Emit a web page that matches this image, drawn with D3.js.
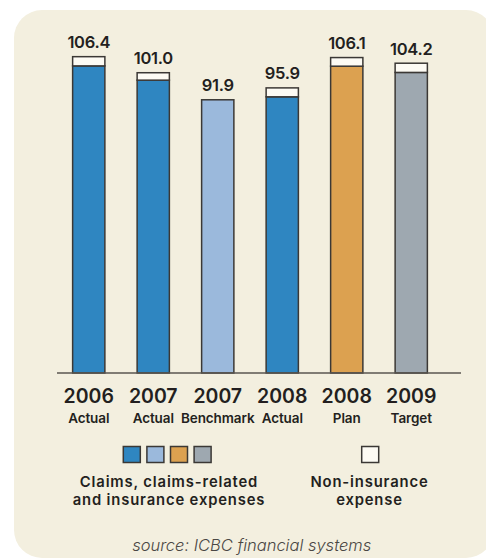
<!DOCTYPE html>
<html>
<head>
<meta charset="utf-8">
<script src="https://cdn.jsdelivr.net/npm/d3@7"></script>
<style>
  html, body { margin: 0; padding: 0; background: #ffffff; }
  svg { display: block; }
  text { font-family: Inter, Lato, sans-serif; fill: #231f20; }
</style>
</head>
<body>
<svg id="chart" width="486" height="559"></svg>
<script>
// Expense ratios by year and scenario
const years     = ["2006", "2007", "2007", "2008", "2008", "2009"];
const scenarios = ["Actual", "Actual", "Benchmark", "Actual", "Plan", "Target"];
const totals    = [106.4, 101.0, 91.9, 95.9, 106.1, 104.2];
const claims    = [103.3, 98.5, 91.9, 92.9, 103.2, 101.1];
const nonInsurance = totals.map((t, i) => +(t - claims[i]).toFixed(1));
const barColors = ["#2f86c1", "#2f86c1", "#9bb9dc", "#2f86c1", "#dca150", "#9ea8b0"];
const legendColors = ["#2f86c1", "#9bb9dc", "#dca150", "#9ea8b0"];
const legendLabels = [["Claims, claims-related", "and insurance expenses"], ["Non-insurance", "expense"]];
const sourceNote = "source: ICBC financial systems";

const svg = d3.select("#chart");
const stroke = "#3b3835";
const whiteFill = "#fdfbf4";

// Background panel
svg.append("rect")
  .attr("x", 14).attr("y", 10)
  .attr("width", 480).attr("height", 548)
  .attr("rx", 28).attr("ry", 28)
  .attr("fill", "#f3efdf");

const idx = d3.range(years.length);
const x = d3.scaleBand().domain(idx).range([56.5, 443.5]).paddingInner(0.5).paddingOuter(0.25);
const y = d3.scaleLinear().domain([0, 110]).range([373, 373 - 110 * 2.973]);

// Stacked bars: claims at the bottom, non-insurance expense on top
const bars = svg.append("g");
idx.forEach(i => {
  const g = bars.append("g");
  g.append("rect")
    .attr("x", x(i)).attr("width", x.bandwidth())
    .attr("y", y(claims[i])).attr("height", y(0) - y(claims[i]))
    .attr("fill", barColors[i]).attr("stroke", stroke).attr("stroke-width", 1.5);
  if (nonInsurance[i] > 0) {
    g.append("rect")
      .attr("x", x(i)).attr("width", x.bandwidth())
      .attr("y", y(totals[i])).attr("height", y(claims[i]) - y(totals[i]))
      .attr("fill", whiteFill).attr("stroke", stroke).attr("stroke-width", 1.5);
  }
  g.append("text")
    .attr("x", x(i) + x.bandwidth() / 2)
    .attr("y", y(totals[i]) - 8.5)
    .attr("text-anchor", "middle")
    .attr("font-size", 16.5).attr("font-weight", 600)
    .attr("letter-spacing", -0.3)
    .text(totals[i].toFixed(1));
});

// Baseline
svg.append("line")
  .attr("x1", 57).attr("x2", 461)
  .attr("y1", y(0)).attr("y2", y(0))
  .attr("stroke", "#5a5651").attr("stroke-width", 1.5);

// Category labels
const cats = svg.append("g");
idx.forEach(i => {
  const cx = x(i) + x.bandwidth() / 2;
  cats.append("text").attr("x", cx).attr("y", 403.3)
    .attr("text-anchor", "middle").attr("font-size", 19.5).attr("font-weight", 600)
    .text(years[i]);
  cats.append("text").attr("x", cx).attr("y", 422.7)
    .attr("text-anchor", "middle").attr("font-size", 13.5).attr("font-weight", 600)
    .attr("letter-spacing", -0.1)
    .text(scenarios[i]);
});

// Legend
const legend = svg.append("g");
const sq = 17;
legendColors.forEach((c, k) => {
  legend.append("rect")
    .attr("x", 123.3 + k * 23.6).attr("y", 446.5)
    .attr("width", sq).attr("height", 16)
    .attr("fill", c).attr("stroke", stroke).attr("stroke-width", 1.5);
});
legend.append("rect")
  .attr("x", 361.7).attr("y", 446.5).attr("width", sq).attr("height", 16)
  .attr("fill", whiteFill).attr("stroke", stroke).attr("stroke-width", 1.5);

[[169, legendLabels[0]], [369.5, legendLabels[1]]].forEach(([cx, lines]) => {
  lines.forEach((t, j) => {
    legend.append("text").attr("x", cx).attr("y", 487.2 + j * 18)
      .attr("text-anchor", "middle").attr("font-size", 14.8).attr("font-weight", 600)
      .attr("letter-spacing", 0.85)
      .text(t);
  });
});

// Source note
svg.append("text")
  .attr("x", 251.7).attr("y", 551)
  .attr("text-anchor", "middle")
  .attr("font-size", 16.5).attr("font-style", "italic").attr("font-weight", 300)
  .style("fill", "#4a4744")
  .text(sourceNote);
</script>
</body>
</html>
